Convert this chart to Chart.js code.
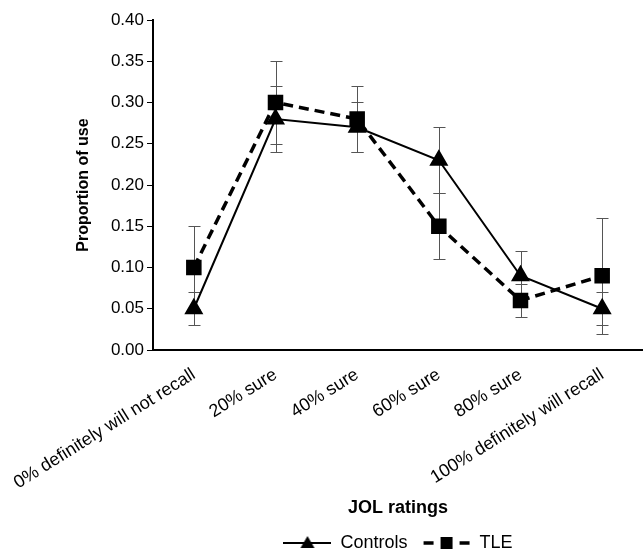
<!DOCTYPE html>
<html><head><meta charset="utf-8">
<script src="https://cdn.jsdelivr.net/npm/chart.js@4/dist/chart.umd.min.js"></script>
<style>html,body{margin:0;padding:0;background:#fff}</style>
</head><body>
<canvas id="c" width="643" height="550"></canvas>
<script>
const categories = ['0% definitely will not recall', '20% sure', '40% sure', '60% sure', '80% sure', '100% definitely will recall'];
const controls = [0.05, 0.28, 0.27, 0.23, 0.09, 0.05];
const tle = [0.10, 0.30, 0.28, 0.15, 0.06, 0.09];
const controlsErr = [0.02, 0.04, 0.03, 0.04, 0.03, 0.02];
const tleErr = [0.05, 0.05, 0.04, 0.04, 0.02, 0.07];
const yMin = 0, yMax = 0.40, yStep = 0.05;

const FONT = '"Liberation Sans", Arial, sans-serif';

const errorBars = {
  id: 'errorBars',
  beforeDatasetsDraw(chart) {
    const ctx = chart.ctx, xs = chart.scales.x, ys = chart.scales.y;
    ctx.save();
    ctx.strokeStyle = '#555';
    ctx.lineWidth = 1;
    chart.data.datasets.forEach(ds => {
      ds.data.forEach((v, i) => {
        const e = ds.errors[i];
        const px = Math.round(xs.getPixelForValue(i)) + 0.5;
        const t = Math.round(ys.getPixelForValue(v + e)) + 0.5;
        const b = Math.round(ys.getPixelForValue(v - e)) + 0.5;
        ctx.beginPath();
        ctx.moveTo(px, t); ctx.lineTo(px, b);
        ctx.moveTo(px - 6, t); ctx.lineTo(px + 6, t);
        ctx.moveTo(px - 6, b); ctx.lineTo(px + 6, b);
        ctx.stroke();
      });
    });
    ctx.restore();
  }
};

function legendIcon(kind) {
  const c = document.createElement('canvas');
  c.width = 48; c.height = 20;
  const g = c.getContext('2d');
  g.strokeStyle = '#000'; g.fillStyle = '#000';
  if (kind === 'triangle') {
    g.lineWidth = 2;
    g.beginPath(); g.moveTo(0, 10); g.lineTo(48, 10); g.stroke();
    g.beginPath(); g.moveTo(24, 3); g.lineTo(31, 15); g.lineTo(17, 15); g.closePath(); g.fill();
  } else {
    g.lineWidth = 3.5;
    g.beginPath(); g.moveTo(1, 10); g.lineTo(11, 10); g.moveTo(37, 10); g.lineTo(47, 10); g.stroke();
    g.fillRect(18, 4, 12, 12);
  }
  return c;
}
const icons = [legendIcon('triangle'), legendIcon('rect')];
const noPad = () => ({ left: 0, top: 0, right: 0, bottom: 0 });

new Chart(document.getElementById('c'), {
  type: 'line',
  data: {
    labels: categories,
    datasets: [
      { label: 'Controls', data: controls, errors: controlsErr, borderColor: '#000', backgroundColor: '#000',
        borderWidth: 2, pointStyle: 'triangle', pointRadius: 9, pointHoverRadius: 9, tension: 0 },
      { label: 'TLE', data: tle, errors: tleErr, borderColor: '#000', backgroundColor: '#000',
        borderWidth: 3.5, borderDash: [10, 6], pointStyle: 'rect', pointRadius: 8.5, pointHoverRadius: 8.5, tension: 0 }
    ]
  },
  options: {
    responsive: false,
    animation: false,
    layout: { autoPadding: false, padding: { left: 70, top: 20, right: 0, bottom: -12 } },
    plugins: {
      tooltip: { enabled: false },
      legend: {
        position: 'bottom',
        fullSize: false,
        labels: {
          usePointStyle: true,
          pointStyleWidth: 48,
          color: '#000',
          padding: 15,
          font: { family: FONT, size: 18 },
          generateLabels(chart) {
            return chart.data.datasets.map((ds, i) => ({
              text: ds.label, pointStyle: icons[i], fillStyle: '#000', strokeStyle: '#000',
              lineWidth: 0, hidden: false, datasetIndex: i, fontColor: '#000'
            }));
          }
        }
      }
    },
    scales: {
      x: {
        type: 'category',
        offset: true,
        grid: { display: false, drawTicks: false },
        border: { display: true, color: '#000', width: 2 },
        ticks: { autoSkip: false, minRotation: 32, maxRotation: 32, padding: 14, color: '#000',
                 font: { family: FONT, size: 18 } },
        title: { display: true, text: 'JOL ratings', color: '#000', padding: { top: 0, bottom: 0 },
                 font: { family: FONT, size: 18, weight: 'bold' } },
        afterFit(s) { s.height = 169; s.paddingLeft = 0; s.paddingRight = 0; s.getPadding = noPad; }
      },
      y: {
        min: yMin, max: yMax,
        grid: { drawOnChartArea: false, drawTicks: true, tickLength: 6, color: '#000', lineWidth: 1 },
        border: { display: true, color: '#000', width: 2 },
        ticks: { stepSize: yStep, padding: 3, color: '#000', font: { family: FONT, size: 17 },
                 callback: v => Number(v).toFixed(2) },
        title: { display: true, text: 'Proportion of use', color: '#000', padding: { top: 4, bottom: 4 },
                 font: { family: FONT, size: 16, weight: 'bold' } },
        afterFit(s) { s.width = 83; }
      }
    }
  },
  plugins: [errorBars]
});
</script>
</body></html>
